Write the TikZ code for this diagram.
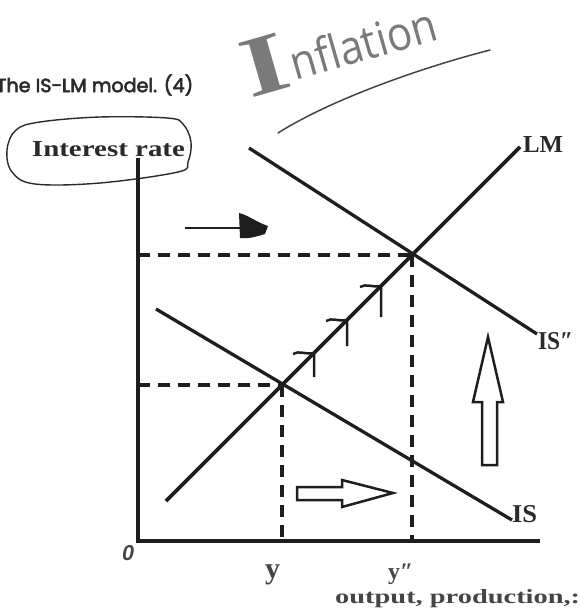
\documentclass[tikz,border=0pt]{standalone}
\usepackage{fontspec}
\usepackage{graphicx}
\setmainfont{Liberation Serif}
\newfontfamily\titlefont{Poppins}[FakeBold=3]
\newfontfamily\handfont{Open Sans}
\newfontfamily\handserif{Liberation Serif}
\newfontfamily\zerofont{Liberation Sans}
\usetikzlibrary{calc}
\definecolor{ink}{HTML}{1E1E1E}
\definecolor{txt}{HTML}{2A2A2A}
\definecolor{soft}{HTML}{454545}
\definecolor{hand}{HTML}{7A7A7A}
\begin{document}
\begin{tikzpicture}[x=1pt,y=-1pt,
  curve/.style={ink,line width=3.3pt},
  axisline/.style={ink,line width=3.2pt},
  guide/.style={ink,line width=3.2pt,dash pattern=on 12pt off 8pt},
  hook/.style={ink,line width=2.5pt},
  hollow/.style={ink,line width=2.5pt,fill=white,line join=miter},
  lab/.style={inner sep=0pt,text=txt},
  axlab/.style={inner sep=0pt,text=soft}]
\useasboundingbox (0,0) rectangle (580,616);

% title
\node[lab,anchor=west] (title) at (-4,85) {\resizebox{197pt}{!}{\titlefont The IS-LM model. (4)}};

% handwritten Inflation
\node[inner sep=0pt,text=hand,rotate=16,anchor=base west] (infl) at (250,99)
  {\resizebox{46pt}{56pt}{\handserif\bfseries I}\hspace{3pt}\raisebox{5pt}{\resizebox{150pt}{36pt}{\handfont nflation}}};
\coordinate (ul1) at (278,133);
\coordinate (ul2) at (490,50);
\draw[soft,line width=1.5pt,line cap=round] (ul1) .. controls (330,100) and (420,68) .. (ul2);

% interest rate bubble
\node[lab] (irate) at (108.5,149.5) {\resizebox{153pt}{15pt}{\bfseries Interest rate}};
\draw[txt,line width=1.4pt] plot[smooth cycle,tension=0.6] coordinates
  {(7,150) (16,130) (40,122) (100,117) (167,118) (183,124) (191,142) (188,162) (178,172) (100,183) (35,184) (12,172)};

% axes
\coordinate (ytop) at (138,158);
\coordinate (orig) at (138,541);
\coordinate (xend) at (540,541);
\draw[axisline] (ytop) -- (orig) -- (xend);
\node[inner sep=0pt,text=soft] (zero) at (128,553) {\resizebox{12pt}{!}{\zerofont\bfseries\itshape 0}};

% equilibrium points
\coordinate (E1) at (282,385);
\coordinate (E2) at (412,255);
\coordinate (E1y) at (138,385);
\coordinate (E2y) at (138,255);
\coordinate (E1x) at (282,541);
\coordinate (E2x) at (412,541);

% dashed guides
\draw[guide] (E2y) -- (E2);
\draw[guide] (E1y) -- (E1);
\draw[guide] (E1) -- (E1x);
\draw[guide] (E2) -- (E2x);

% curves
\coordinate (lmA) at (166,501);
\coordinate (lmB) at (520,147);
\coordinate (isA) at (156,309);
\coordinate (isB) at (512,520);
\coordinate (is2A) at (249,148);
\coordinate (is2B) at (537,334);
\draw[curve,line width=3.6pt] (lmA) -- (lmB);
\draw[curve] (isA) -- (isB);
\draw[curve] (is2A) -- (is2B);

% curve labels
\node[lab] (lmlab) at (543,144) {\resizebox{40pt}{16pt}{\bfseries LM}};
\node[lab] (is2lab) at (555.5,341.5) {\resizebox{35pt}{17pt}{\bfseries IS\symbol{"2033}}};
\node[lab] (islab) at (524.5,514) {\resizebox{25pt}{17pt}{\bfseries IS}};

% axis labels
\node[axlab,anchor=base west] (ylab) at (265,578) {\resizebox{15pt}{!}{\bfseries y}};
\node[axlab,anchor=base west] (y2lab) at (388,579) {\resizebox{25pt}{!}{\bfseries y\symbol{"2033}}};
\node[axlab,anchor=base west] (outlab) at (335,603) {\resizebox{245pt}{14pt}{\bfseries output, production,:}};

% step hooks along LM
\foreach \px/\py/\len [count=\i] in {314/353/24, 347/320/26, 381/286/31}{
  \coordinate (h\i) at (\px,\py);
  \draw[hook] ($(h\i)+(-21,1)$) .. controls ($(h\i)+(-15,-3)$) and ($(h\i)+(-8,2)$) .. (h\i) -- ++(0,\len);
}

% small arrow with blob head
\coordinate (saA) at (185,228);
\coordinate (saB) at (243,228);
\draw[ink,line width=2.2pt] (saA) -- (saB);
\fill[ink] (239,213) .. controls (248,215) and (256,222) .. (268,226) -- (265,234) .. controls (255,237) and (248,239) .. (240,238) -- cycle;

% hollow block arrows
\draw[hollow] (297,487) -- (342,487) -- (342,480) -- (393,493) -- (342,507) -- (342,500) -- (297,500) -- cycle;
\draw[hollow] (482,465) -- (482,402) -- (473,402) -- (488,337) -- (503,402) -- (497,402) -- (497,465) -- cycle;
\end{tikzpicture}
\end{document}
